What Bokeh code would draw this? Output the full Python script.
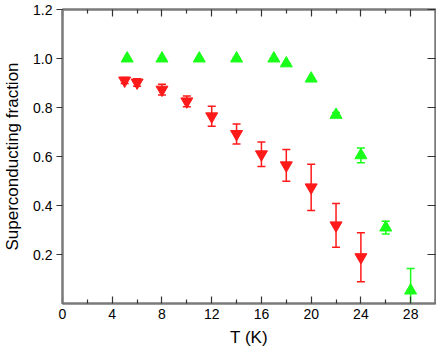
from bokeh.plotting import figure
from bokeh.models import (ColumnDataSource, Whisker, TeeHead, LinearAxis, FixedTicker, Range1d)
from bokeh.embed import file_html
from bokeh.resources import INLINE

# Red series (down triangles)
red_T = [5, 6, 8, 10, 12, 14, 16, 18, 20, 22, 24]
red_frac = [0.910, 0.902, 0.873, 0.825, 0.764, 0.692, 0.609, 0.564, 0.474, 0.319, 0.189]
red_err = [0.012, 0.015, 0.022, 0.022, 0.041, 0.041, 0.050, 0.065, 0.094, 0.089, 0.100]

# Green series (up triangles)
green_T = [5.2, 8, 11, 14, 17, 18, 20, 22, 24, 26, 28]
green_frac = [1.0, 1.0, 1.0, 1.0, 1.0, 0.98, 0.918, 0.770, 0.605, 0.310, 0.053]
green_err = [0.0, 0.0, 0.0, 0.0, 0.0, 0.0, 0.0, 0.010, 0.030, 0.026, 0.090]

x_ticks = [0, 4, 8, 12, 16, 20, 24, 28]
x_minor = [2, 6, 10, 14, 18, 22, 26, 30]
y_ticks = [0.2, 0.4, 0.6, 0.8, 1.0, 1.2]
y_labels = ["0.2", "0.4", "0.6", "0.8", "1.0", "1.2"]

FONT = "Liberation Sans"
AXIS_COL = "#7a7a7a"
TICK_COL = "#333333"

p = figure(width=436, height=349, output_backend="svg", toolbar_location=None,
           x_range=Range1d(0, 30), y_range=Range1d(0, 1.2),
           min_border_left=61, min_border_right=1, min_border_top=9, min_border_bottom=46)
p.grid.visible = False
p.outline_line_color = AXIS_COL
p.outline_line_width = 2
p.background_fill_color = "white"
p.border_fill_color = "white"

def style_axis(ax):
    ax.axis_line_color = AXIS_COL
    ax.axis_line_width = 2
    ax.major_tick_line_color = TICK_COL
    ax.minor_tick_line_color = TICK_COL
    ax.major_tick_line_width = 1.2
    ax.minor_tick_line_width = 1.2
    ax.major_label_text_font = FONT
    ax.major_label_text_font_size = "14px"
    ax.major_label_text_color = "black"
    ax.axis_label_text_font = FONT
    ax.axis_label_text_font_size = "17px"
    ax.axis_label_text_font_style = "normal"
    ax.axis_label_text_color = "black"

xa = p.xaxis[0]
style_axis(xa)
xa.ticker = FixedTicker(ticks=x_ticks, minor_ticks=x_minor)
xa.major_tick_in = 7
xa.major_tick_out = 0
xa.minor_tick_in = 4
xa.minor_tick_out = 0
xa.major_label_standoff = 5
xa.axis_label = "T (K)"
xa.axis_label_standoff = 6

ya = p.yaxis[0]
style_axis(ya)
ya.ticker = FixedTicker(ticks=y_ticks, minor_ticks=[])
ya.major_label_overrides = {t: s for t, s in zip(y_ticks, y_labels)}
ya.major_tick_in = 0
ya.major_tick_out = 6
ya.minor_tick_in = 0
ya.minor_tick_out = 0
ya.major_label_standoff = 4
ya.axis_label = "Superconducting fraction"
ya.axis_label_standoff = 8

top = LinearAxis(ticker=FixedTicker(ticks=x_ticks, minor_ticks=x_minor))
style_axis(top)
top.major_tick_in = 7
top.major_tick_out = 0
top.minor_tick_in = 4
top.minor_tick_out = 0
top.major_label_overrides = {t: "" for t in x_ticks}
top.major_label_standoff = 0
p.add_layout(top, "above")

right = LinearAxis(ticker=FixedTicker(ticks=y_ticks, minor_ticks=[]))
style_axis(right)
right.major_tick_in = 8
right.major_tick_out = 0
right.minor_tick_in = 0
right.minor_tick_out = 0
right.major_label_overrides = {t: "" for t in y_ticks}
right.major_label_standoff = 0
p.add_layout(right, "right")

red_src = ColumnDataSource(dict(x=red_T, y=red_frac,
                                lo=[v - e for v, e in zip(red_frac, red_err)],
                                hi=[v + e for v, e in zip(red_frac, red_err)]))
green_src = ColumnDataSource(dict(x=green_T, y=green_frac,
                                  lo=[v - e for v, e in zip(green_frac, green_err)],
                                  hi=[v + e for v, e in zip(green_frac, green_err)]))

RED = "#ff1a1a"
GREEN = "#1aff1a"

for src, col in ((red_src, RED), (green_src, GREEN)):
    w = Whisker(source=src, base="x", lower="lo", upper="hi", line_color=col, line_width=1.5,
                upper_head=TeeHead(size=8, line_color=col, line_width=1.5),
                lower_head=TeeHead(size=8, line_color=col, line_width=1.5))
    p.add_layout(w)

p.scatter("x", "y", source=red_src, marker="inverted_triangle", size=12,
          fill_color=RED, line_color=RED)
p.scatter("x", "y", source=green_src, marker="triangle", size=12,
          fill_color=GREEN, line_color=GREEN)

open("out.html", "w").write(file_html(p, INLINE))
